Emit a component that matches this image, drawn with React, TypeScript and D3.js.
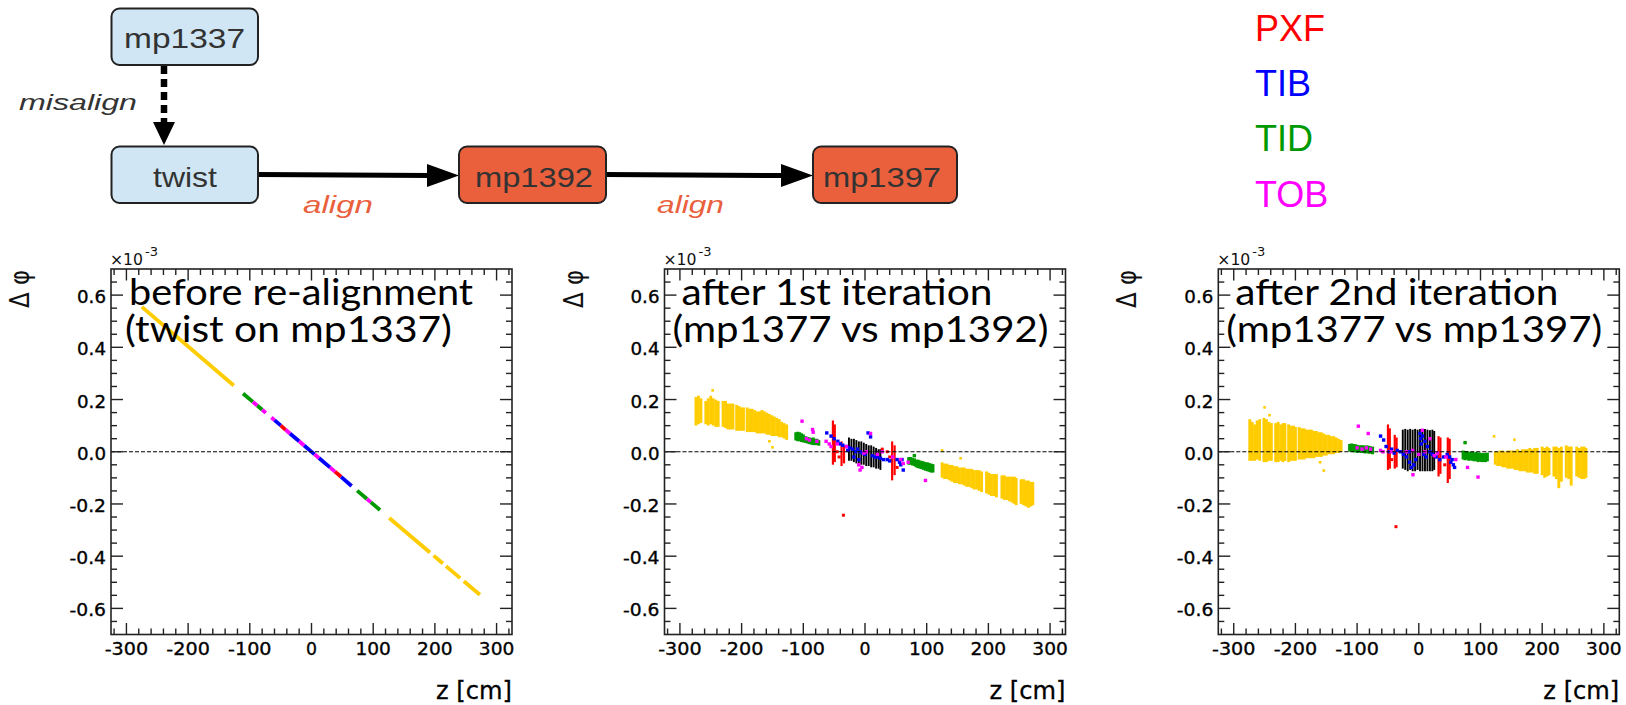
import React from 'react';
import * as d3 from 'd3';

// ---------- axis / text data ----------
const xTicks = [-300, -200, -100, 0, 100, 200, 300];
const yTicks = [-0.6, -0.4, -0.2, 0, 0.2, 0.4, 0.6];
const xDomain = [-325, 325];
const yDomain = [-0.7, 0.7];
const panelTitles = [
  ['before re-alignment', '(twist on mp1337)'],
  ['after 1st iteration', '(mp1377 vs mp1392)'],
  ['after 2nd iteration', '(mp1377 vs mp1397)'],
];
const legendLabels = ['PXF', 'TIB', 'TID', 'TOB'];
const legendColors = ['#ff0000', '#0000ff', '#009900', '#ff00ff'];
const nodeLabels = ['mp1337', 'twist', 'mp1392', 'mp1397'];
const edgeLabels = ['misalign', 'align', 'align'];

// ---------- panel 1: straight-line pieces [z0, dphi0, z1, dphi1] ----------
const p1TEC = [[-275, 0.555, -126, 0.254], [126, -0.254, 192, -0.386], [198, -0.398, 213, -0.428], [218, -0.438, 241, -0.484], [247, -0.496, 273, -0.548]];
const p1TID = [[-111, 0.223, -95, 0.191], [-88, 0.177, -80, 0.161], [74, -0.149, 90, -0.181], [96, -0.193, 111, -0.223]];
const p1TOB = [[-95, 0.191, -88, 0.177], [-80, 0.161, -74, 0.149], [90, -0.181, 96, -0.193], [-65, 0.131, -60, 0.121], [-42, 0.084, -35, 0.07], [-20, 0.04, -12, 0.024], [5, -0.01, 12, -0.024], [30, -0.06, 38, -0.076]];
const p1TIB = [[-60, 0.121, -50, 0.101], [-35, 0.07, -20, 0.04], [-12, 0.024, 5, -0.01], [12, -0.024, 30, -0.06], [48, -0.096, 65, -0.131]];
const p1PXF = [[-50, 0.101, -42, 0.084], [38, -0.076, 48, -0.096]];

// ---------- panel 2: columns [z, low, high], points [z, dphi] ----------
const p2TEC = [
  [-274, 0.105, 0.205], [-270, 0.11, 0.21], [-266, 0.115, 0.2],
  [-258, 0.11, 0.19], [-254, 0.105, 0.2], [-250, 0.11, 0.21], [-246, 0.105, 0.2], [-242, 0.1, 0.195], [-238, 0.1, 0.19],
  [-230, 0.1, 0.19], [-226, 0.095, 0.19], [-222, 0.09, 0.18], [-218, 0.09, 0.18], [-214, 0.09, 0.18],
  [-208, 0.085, 0.175], [-204, 0.085, 0.17], [-200, 0.085, 0.165], [-197, 0.085, 0.165],
  [-191, 0.08, 0.165], [-187, 0.08, 0.16], [-183, 0.08, 0.16], [-179, 0.08, 0.155], [-175, 0.075, 0.15], [-171, 0.075, 0.15],
  [-167, 0.075, 0.155], [-163, 0.075, 0.15], [-159, 0.07, 0.145], [-155, 0.07, 0.14], [-151, 0.065, 0.135], [-147, 0.065, 0.13],
  [-143, 0.065, 0.125], [-139, 0.06, 0.12], [-135, 0.06, 0.11], [-131, 0.055, 0.105], [-127, 0.05, 0.1],
  [125, -0.095, -0.045], [129, -0.1, -0.05], [133, -0.1, -0.05], [137, -0.105, -0.055], [141, -0.11, -0.055], [145, -0.115, -0.06],
  [149, -0.115, -0.06], [153, -0.12, -0.065], [157, -0.12, -0.065], [161, -0.125, -0.065], [165, -0.13, -0.07], [169, -0.13, -0.07],
  [173, -0.135, -0.07], [177, -0.14, -0.075], [181, -0.14, -0.075], [185, -0.145, -0.075], [189, -0.15, -0.08],
  [197, -0.155, -0.08], [201, -0.16, -0.085], [205, -0.165, -0.09], [209, -0.165, -0.09], [213, -0.17, -0.09],
  [222, -0.175, -0.095], [226, -0.18, -0.095], [230, -0.18, -0.1], [234, -0.185, -0.1], [238, -0.19, -0.1], [242, -0.195, -0.1], [245, -0.2, -0.105],
  [253, -0.195, -0.11], [257, -0.2, -0.11], [261, -0.205, -0.115], [265, -0.21, -0.115], [269, -0.205, -0.12], [272, -0.2, -0.12],
];
const p2TECpts = [[-247, 0.235], [-155, 0.04], [-150, 0.017], [125, 0.005], [155, -0.025]];
const p2TPB = [
  [-26, -0.03, 0.05], [-22, -0.03, 0.045], [-18, -0.035, 0.045], [-14, -0.04, 0.04], [-10, -0.04, 0.035], [-6, -0.045, 0.035],
  [-2, -0.045, 0.03], [2, -0.05, 0.025], [6, -0.05, 0.02], [10, -0.055, 0.02], [14, -0.055, 0.015], [18, -0.06, 0.01],
  [22, -0.06, 0.005], [25, -0.065, 0.005],
];
const p2PXFcols = [[-52, -0.045, 0.115], [-49, -0.035, 0.1], [-38, -0.05, 0.035], [-34, -0.04, 0.02], [44, -0.105, 0.035], [48, -0.085, 0.02]];
const p2PXF = [[-35, -0.243], [-45, 0.0], [-42, -0.02], [28, 0.01], [36, 0.0], [40, -0.02], [52, -0.06]];
const p2TIDcols = [
  [-112, 0.048, 0.07], [-109, 0.045, 0.072], [-106, 0.045, 0.07], [-103, 0.042, 0.066], [-100, 0.04, 0.062], [-96, 0.038, 0.055],
  [-93, 0.036, 0.052], [-90, 0.034, 0.05], [-87, 0.032, 0.048], [-84, 0.03, 0.05], [-81, 0.03, 0.045], [-78, 0.03, 0.045], [-75, 0.028, 0.04],
  [71, -0.045, -0.025], [74, -0.045, -0.025], [77, -0.048, -0.028], [80, -0.05, -0.03], [83, -0.055, -0.035], [86, -0.058, -0.035],
  [89, -0.06, -0.038], [92, -0.062, -0.04], [95, -0.065, -0.042], [98, -0.068, -0.045], [101, -0.07, -0.045], [104, -0.072, -0.048],
  [107, -0.075, -0.05], [110, -0.075, -0.052],
];
const p2TID = [[80, -0.015]];
const p2TIB = [
  [-62, 0.072], [-55, 0.06], [-50, 0.05], [-44, 0.04], [-40, 0.03], [-36, 0.025], [-30, 0.02], [-25, 0.015], [-20, 0.01],
  [-15, 0.0], [-12, 0.01], [-8, 0.0], [-4, -0.005], [0, -0.01], [5, 0.072], [9, 0.057], [12, -0.015], [16, -0.02], [20, -0.02],
  [25, -0.025], [30, -0.03], [36, -0.03], [40, -0.035], [52, -0.03], [56, -0.04], [58, -0.05], [62, -0.07], [60, -0.03],
  [-28, 0.005], [-18, -0.02], [-10, -0.03],
];
const p2TOB = [
  [-102, 0.117], [-85, 0.085], [-84, 0.075], [-95, 0.05], [-90, 0.045], [-78, 0.04], [-63, 0.04], [-58, 0.03], [-55, 0.02],
  [-45, 0.03], [-30, 0.02], [-10, -0.05], [-8, -0.07], [-5, -0.06], [-2, -0.005], [2, 0.0], [9, 0.07], [20, -0.01], [28, 0.0],
  [45, -0.02], [58, -0.03], [62, -0.045], [98, -0.11], [70, -0.04],
];

// ---------- panel 3 ----------
const p3TEC = [
  [-274, -0.03, 0.12], [-270, -0.03, 0.11], [-266, -0.03, 0.1], [-262, -0.025, 0.115], [-258, -0.03, 0.12],
  [-251, -0.035, 0.125], [-247, -0.035, 0.12], [-243, -0.03, 0.11], [-239, -0.03, 0.105],
  [-232, -0.035, 0.105], [-228, -0.035, 0.11], [-224, -0.03, 0.1], [-220, -0.035, 0.105], [-217, -0.03, 0.105],
  [-211, -0.035, 0.1], [-207, -0.03, 0.095], [-203, -0.03, 0.095], [-200, -0.03, 0.09],
  [-194, -0.025, 0.09], [-190, -0.025, 0.085], [-186, -0.025, 0.085], [-182, -0.02, 0.08], [-178, -0.02, 0.08], [-174, -0.02, 0.08],
  [-170, -0.02, 0.075], [-166, -0.015, 0.075], [-162, -0.015, 0.07], [-158, -0.015, 0.07], [-154, -0.01, 0.065], [-150, -0.01, 0.06],
  [-146, -0.005, 0.06], [-142, -0.005, 0.055], [-138, -0.005, 0.055], [-134, 0.0, 0.05], [-130, 0.0, 0.045], [-126, 0.005, 0.04],
  [124, -0.045, -0.005], [128, -0.05, -0.005], [132, -0.05, 0.0], [136, -0.055, 0.0], [140, -0.055, -0.005], [144, -0.06, 0.0],
  [148, -0.06, 0.0], [152, -0.06, 0.0], [156, -0.065, 0.0], [160, -0.065, 0.005], [164, -0.07, 0.0], [168, -0.07, 0.005],
  [172, -0.07, 0.005], [176, -0.075, 0.005], [180, -0.075, 0.01], [184, -0.075, 0.005], [188, -0.08, 0.01], [192, -0.08, 0.01],
  [200, -0.085, 0.015], [204, -0.095, 0.01], [208, -0.09, 0.015], [211, -0.085, 0.01],
  [219, -0.09, 0.015], [223, -0.1, 0.015], [227, -0.135, 0.01], [231, -0.11, 0.015],
  [239, -0.095, 0.02], [243, -0.1, 0.015], [247, -0.125, 0.015],
  [256, -0.09, 0.015], [260, -0.095, 0.01], [264, -0.1, 0.015], [268, -0.1, 0.015], [271, -0.095, 0.01],
];
const p3TECpts = [[-250, 0.17], [-242, 0.14], [-154, -0.072], [-160, -0.04], [122, 0.059], [155, 0.046]];
const p3TPB = [
  [-26, -0.06, 0.08], [-22, -0.065, 0.083], [-18, -0.07, 0.08], [-14, -0.065, 0.083], [-10, -0.07, 0.08], [-6, -0.07, 0.083],
  [-2, -0.065, 0.08], [2, -0.07, 0.083], [6, -0.07, 0.08], [10, -0.07, 0.083], [14, -0.07, 0.08], [18, -0.07, 0.078],
  [22, -0.07, 0.08], [25, -0.065, 0.075],
];
const p3PXFcols = [[-50, -0.065, 0.1], [-47, -0.06, 0.085], [-39, -0.06, 0.06], [-36, -0.055, 0.05], [32, -0.09, 0.055], [35, -0.08, 0.05], [47, -0.115, 0.05], [50, -0.1, 0.045]];
const p3PXF = [[-37, -0.287], [-44, -0.03], [42, -0.05]];
const p3TIDcols = [
  [-112, 0.005, 0.025], [-109, 0.005, 0.027], [-106, 0.003, 0.025], [-103, 0.003, 0.024], [-100, 0.0, 0.022], [-96, 0.002, 0.02],
  [-93, 0.0, 0.02], [-90, 0.0, 0.02], [-87, -0.002, 0.018], [-84, 0.0, 0.02], [-81, -0.003, 0.018], [-78, -0.002, 0.016], [-75, -0.005, 0.015],
  [72, -0.025, 0.0], [75, -0.028, -0.002], [78, -0.025, -0.002], [81, -0.03, -0.005], [84, -0.028, -0.005], [87, -0.03, -0.005],
  [90, -0.032, -0.008], [93, -0.03, -0.005], [96, -0.035, -0.008], [99, -0.032, -0.008], [102, -0.035, -0.01], [105, -0.035, -0.01],
  [108, -0.035, -0.01], [111, -0.032, -0.008],
];
const p3TID = [[75, 0.035]];
const p3TIB = [
  [-62, 0.06], [-57, 0.045], [-53, 0.02], [-48, 0.0], [-44, 0.01], [-40, -0.005], [-30, 0.0], [-25, -0.01], [-20, -0.02],
  [-15, -0.04], [-12, -0.06], [-8, -0.05], [-5, -0.03], [2, 0.07], [3, 0.05], [4, 0.03], [6, 0.06], [10, 0.04], [14, 0.02],
  [18, 0.0], [22, -0.01], [28, -0.02], [34, -0.03], [40, -0.02], [46, -0.01], [50, -0.02], [54, -0.03], [56, -0.05], [58, -0.06],
  [52, -0.04], [-35, 0.005], [-16, 0.0], [8, -0.01], [12, -0.02],
];
const p3TOB = [
  [-98, 0.098], [-82, 0.07], [-100, 0.015], [-92, 0.01], [-85, 0.015], [-78, 0.01], [-62, 0.005], [-58, 0.0], [-9.5, -0.088],
  [5.8, 0.082], [18, 0.05], [79, -0.06], [96, -0.097], [-20, 0.0], [-10, 0.005], [0, -0.01], [10, 0.0], [25, -0.015], [30, -0.005],
  [44, -0.02], [60, -0.03], [-45, 0.0],
];

// ---------- styling ----------
const C = { TEC: '#ffcc00', TPB: '#000000', PXF: '#ff0000', TIB: '#0000ff', TID: '#009900', TOB: '#ff00ff' };
const FRAME_W = 401;
const FRAME_TOP = 269;
const FRAME_BOT = 634.5;
const panelLefts = [111, 664.5, 1218.3];
const AX = '#222';
const tickFont = '"DejaVu Sans", sans-serif';
const diagFont = '"Liberation Sans", Arial, sans-serif';
const titleFont = 'Lato, "Open Sans", sans-serif';
const titleLen = [[344, 327], [311, 376], [323, 376]];
const titleX = [[18, 14], [17, 8], [17, 8]];

type Cols = number[][];
type Pts = number[][];
type Segs = number[][];

interface ColSet { data: Cols; color: string; w: number }
interface PanelData {
  segs?: { data: Segs; color: string }[];
  cols?: ColSet[];
  pts?: { data: Pts; color: string; s: number }[];
}

const panelsData: PanelData[] = [
  {
    segs: [
      { data: p1TEC, color: C.TEC }, { data: p1TID, color: C.TID }, { data: p1PXF, color: C.PXF },
      { data: p1TIB, color: C.TIB }, { data: p1TOB, color: C.TOB },
    ],
  },
  {
    cols: [
      { data: p2TEC, color: C.TEC, w: 2.9 }, { data: p2TPB, color: C.TPB, w: 1.9 },
      { data: p2PXFcols, color: C.PXF, w: 2.2 }, { data: p2TIDcols, color: C.TID, w: 3.2 },
    ],
    pts: [
      { data: p2TECpts, color: C.TEC, s: 2.6 }, { data: p2PXF, color: C.PXF, s: 3 }, { data: p2TIB, color: C.TIB, s: 3.4 },
      { data: p2TID, color: C.TID, s: 3.4 }, { data: p2TOB, color: C.TOB, s: 3.4 },
    ],
  },
  {
    cols: [
      { data: p3TEC, color: C.TEC, w: 2.9 }, { data: p3TPB, color: C.TPB, w: 1.9 },
      { data: p3PXFcols, color: C.PXF, w: 2.2 }, { data: p3TIDcols, color: C.TID, w: 3.2 },
    ],
    pts: [
      { data: p3TECpts, color: C.TEC, s: 2.6 }, { data: p3PXF, color: C.PXF, s: 3 }, { data: p3TIB, color: C.TIB, s: 3.4 },
      { data: p3TID, color: C.TID, s: 3.4 }, { data: p3TOB, color: C.TOB, s: 3.4 },
    ],
  },
];

function xLabelLen(t: number) {
  const s = String(t);
  if (s.length === 1) return 11;
  return s.startsWith('-') ? 43.5 : 35.5;
}
function yLabelLen(t: number) {
  return t < 0 ? 36.5 : 29;
}

function Panel({ idx }: { idx: number }) {
  const left = panelLefts[idx];
  const x = d3.scaleLinear().domain(xDomain).range([left, left + FRAME_W]);
  const y = d3.scaleLinear().domain(yDomain).range([FRAME_BOT, FRAME_TOP]);
  const xMinor = d3.range(-320, 321, 20).filter((v) => v % 100 !== 0);
  const yMinor = d3.range(-0.65, 0.651, 0.05).map((v) => Math.round(v * 100) / 100).filter((v) => Math.round(v * 100) % 20 !== 0);
  const d = panelsData[idx];
  const right = left + FRAME_W;
  const ticksX: React.ReactNode[] = [];
  xTicks.forEach((t) => {
    ticksX.push(<line key={'xb' + t} x1={x(t)} x2={x(t)} y1={FRAME_BOT} y2={FRAME_BOT - 11.5} />);
    ticksX.push(<line key={'xt' + t} x1={x(t)} x2={x(t)} y1={FRAME_TOP} y2={FRAME_TOP + 11.5} />);
  });
  xMinor.forEach((t) => {
    ticksX.push(<line key={'xbm' + t} x1={x(t)} x2={x(t)} y1={FRAME_BOT} y2={FRAME_BOT - 6} />);
    ticksX.push(<line key={'xtm' + t} x1={x(t)} x2={x(t)} y1={FRAME_TOP} y2={FRAME_TOP + 6} />);
  });
  const ticksY: React.ReactNode[] = [];
  yTicks.forEach((t) => {
    ticksY.push(<line key={'yl' + t} x1={left} x2={left + 12} y1={y(t)} y2={y(t)} />);
    ticksY.push(<line key={'yr' + t} x1={right} x2={right - 12} y1={y(t)} y2={y(t)} />);
  });
  yMinor.forEach((t) => {
    ticksY.push(<line key={'ylm' + t} x1={left} x2={left + 6} y1={y(t)} y2={y(t)} />);
    ticksY.push(<line key={'yrm' + t} x1={right} x2={right - 6} y1={y(t)} y2={y(t)} />);
  });
  const tickStyle = { fontFamily: tickFont, fontSize: '18px' };
  return (
    <g>
      {/* data */}
      <g>
        {(d.segs || []).map((s, si) =>
          s.data.map((p, i) => (
            <line key={'s' + si + '-' + i} x1={x(p[0])} y1={y(p[1])} x2={x(p[2])} y2={y(p[3])} stroke={s.color} strokeWidth={3.8} />
          ))
        )}
        {(d.cols || []).map((c, ci) =>
          c.data.map((p, i) => (
            <line key={'c' + ci + '-' + i} x1={x(p[0])} x2={x(p[0])} y1={y(p[2]) - 1.2} y2={y(p[1]) + 1.2} stroke={c.color} strokeWidth={c.w} />
          ))
        )}
        {(d.pts || []).map((c, ci) =>
          c.data.map((p, i) => (
            <rect key={'p' + ci + '-' + i} x={x(p[0]) - c.s / 2} y={y(p[1]) - c.s / 2} width={c.s} height={c.s} fill={c.color} />
          ))
        )}
      </g>
      {/* zero line */}
      <line x1={left} x2={right} y1={y(0)} y2={y(0)} stroke="#000" strokeWidth={1} strokeDasharray="4,2" />
      {/* frame and ticks */}
      <g stroke={AX} strokeWidth={1.4}>
        {ticksX}
        {ticksY}
      </g>
      <rect x={left} y={FRAME_TOP} width={FRAME_W} height={FRAME_BOT - FRAME_TOP} fill="none" stroke={AX} strokeWidth={1.6} />
      {/* tick labels */}
      <g fill="#000" stroke="#000" strokeWidth={0.35}>
        {xTicks.map((t) => (
          <text key={'xl' + t} x={x(t) - xLabelLen(t) / 2} y={654.5} style={tickStyle} textLength={xLabelLen(t)} lengthAdjust="spacingAndGlyphs">{String(t)}</text>
        ))}
        {yTicks.map((t) => (
          <text key={'yl' + t} x={left - 5 - yLabelLen(t)} y={y(t) + 8} style={tickStyle} textLength={yLabelLen(t)} lengthAdjust="spacingAndGlyphs">{t.toFixed(1)}</text>
        ))}
      </g>
      {/* exponent */}
      <text x={left - 1} y={265} style={{ fontFamily: tickFont, fontSize: '16px' }} fill="#111" textLength={33} lengthAdjust="spacingAndGlyphs">×10</text>
      <text x={left + 34} y={256} style={{ fontFamily: tickFont, fontSize: '13px' }} fill="#111">-3</text>
      {/* axis titles */}
      <text x={right - 76} y={699} style={{ fontFamily: tickFont, fontSize: '24px' }} fill="#000" stroke="#000" strokeWidth={0.3} textLength={76} lengthAdjust="spacingAndGlyphs">z [cm]</text>
      <text transform={`translate(${left - 82},${FRAME_TOP + 39}) rotate(-90)`} style={{ fontFamily: tickFont, fontSize: '26px' }} fill="#111" textLength={38} lengthAdjust="spacingAndGlyphs">Δ φ</text>
      {/* title */}
      <g style={{ fontFamily: titleFont, fontSize: '36px' }} fill="#000">
        <text x={left + titleX[idx][0]} y={305} textLength={titleLen[idx][0]} lengthAdjust="spacingAndGlyphs">{panelTitles[idx][0]}</text>
        <text x={left + titleX[idx][1]} y={342} textLength={titleLen[idx][1]} lengthAdjust="spacingAndGlyphs">{panelTitles[idx][1]}</text>
      </g>
    </g>
  );
}

function Diagram() {
  const boxes = [
    { x: 111.5, y: 8.5, w: 146.5, h: 56.5, fill: '#d0e6f4', tx: 124, tl: 121, ty: 48 },
    { x: 111.5, y: 146.5, w: 146.5, h: 56.5, fill: '#d0e6f4', tx: 153, tl: 64, ty: 187 },
    { x: 459, y: 146.5, w: 147, h: 56.5, fill: '#ea603c', tx: 475, tl: 118, ty: 187 },
    { x: 813, y: 146.5, w: 144, h: 56.5, fill: '#ea603c', tx: 823, tl: 118, ty: 187 },
  ];
  return (
    <g>
      {/* dashed arrow */}
      <line x1={164} x2={164} y1={66} y2={123} stroke="#000" strokeWidth={6.5} strokeDasharray="8,5" />
      <polygon points="153,122 175,122 164,145" fill="#000" />
      {/* horizontal arrows */}
      <line x1={258} x2={430} y1={174.5} y2={175.5} stroke="#000" strokeWidth={5} />
      <polygon points="427,164 427,187 459,175.5" fill="#000" />
      <line x1={606} x2={784} y1={174.5} y2={175.5} stroke="#000" strokeWidth={5} />
      <polygon points="781,164 781,187 813,175.5" fill="#000" />
      {boxes.map((b, i) => (
        <g key={i}>
          <rect x={b.x} y={b.y} width={b.w} height={b.h} rx={8} fill={b.fill} stroke="#222" strokeWidth={2} />
          <text x={b.tx} y={b.ty} style={{ fontFamily: diagFont, fontSize: '28px' }} fill="#333" textLength={b.tl} lengthAdjust="spacingAndGlyphs">{nodeLabels[i]}</text>
        </g>
      ))}
      <text x={19} y={110} style={{ fontFamily: diagFont, fontSize: '22px', fontStyle: 'italic' }} fill="#333" textLength={118} lengthAdjust="spacingAndGlyphs">{edgeLabels[0]}</text>
      <text x={303} y={213} style={{ fontFamily: diagFont, fontSize: '23px', fontStyle: 'italic' }} fill="#ea603c" textLength={70} lengthAdjust="spacingAndGlyphs">{edgeLabels[1]}</text>
      <text x={657} y={213} style={{ fontFamily: diagFont, fontSize: '23px', fontStyle: 'italic' }} fill="#ea603c" textLength={67} lengthAdjust="spacingAndGlyphs">{edgeLabels[2]}</text>
      {/* legend */}
      {legendLabels.map((l, i) => (
        <text key={l} x={1255} y={41 + i * 55.2} style={{ fontFamily: diagFont, fontSize: '36px' }} fill={legendColors[i]}>{l}</text>
      ))}
    </g>
  );
}

export default function App() {
  return (
    <svg width={1626} height={705} style={{ position: 'absolute', left: 0, top: 0, background: '#fff' }}>
      <rect width={1626} height={705} fill="#fff" />
      <Diagram />
      {[0, 1, 2].map((i) => (
        <Panel key={i} idx={i} />
      ))}
    </svg>
  );
}
